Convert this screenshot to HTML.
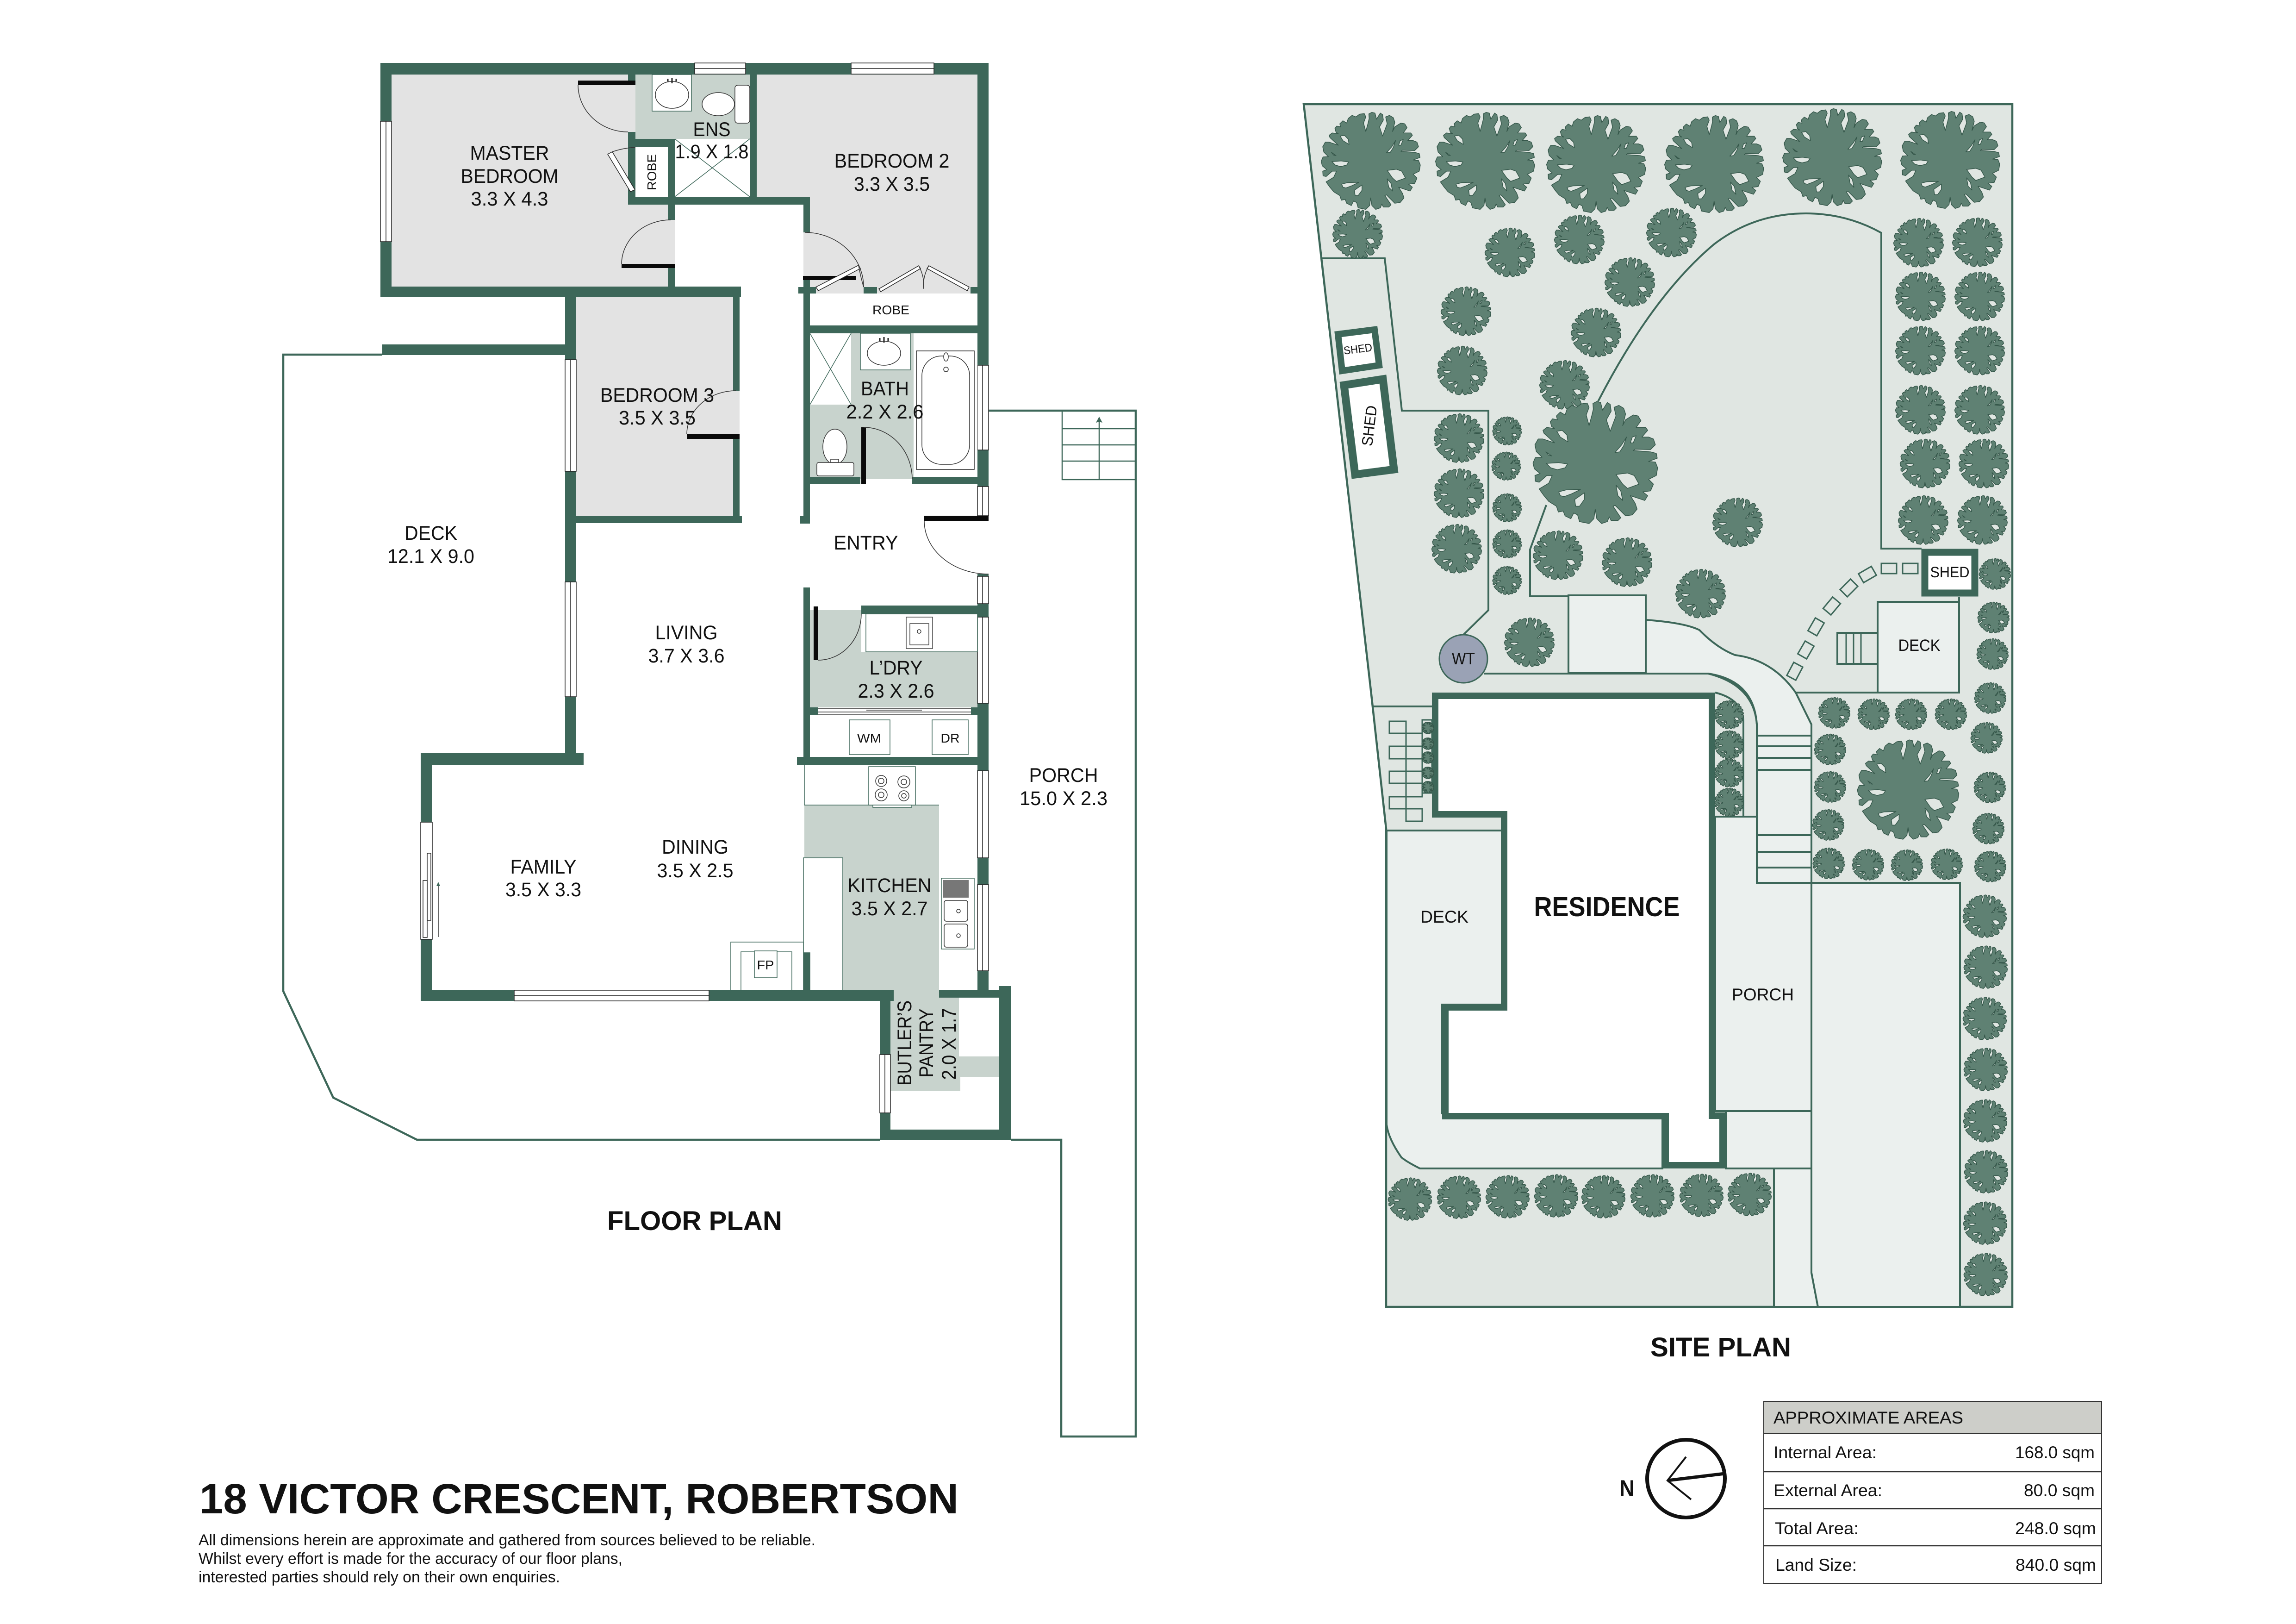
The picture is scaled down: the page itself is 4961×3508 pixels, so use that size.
<!DOCTYPE html>
<html><head><meta charset="utf-8"><title>18 Victor Crescent, Robertson</title>
<style>html,body{margin:0;padding:0;background:#fff}svg{display:block}
text{font-family:"Liberation Sans",sans-serif;fill:#111}
.r{font-size:43px;text-anchor:middle}.s{font-size:28px;text-anchor:middle}
.b{font-weight:bold}
.w{fill:#fff;stroke:#222;stroke-width:1.5}
.l{fill:none;stroke:#3d6759;stroke-width:4.5}
.n{fill:none;stroke:#3d6759;stroke-width:2}
.d{fill:none;stroke:#333;stroke-width:1.5}
.f{fill:#fff;stroke:#3d6759;stroke-width:1.5}
.p{fill:#ebf0ee;stroke:#3d6759;stroke-width:4}
</style></head><body>
<svg xmlns="http://www.w3.org/2000/svg" width="4961" height="3508" viewBox="0 0 4961 3508">
<defs>
<path id="t" transform="translate(-360 -310)" fill="#5f8173" stroke="#35574a" stroke-width="1.5" vector-effect="non-scaling-stroke" fill-rule="evenodd" stroke-linejoin="round" d="M370 0L350 10 352 40 345 70 330 125 315 70 330 30 320 8 290 12 265 30 240 20 215 40 205 70 180 55 160 75 165 95 140 90 128 105 135 130 150 140 110 135 90 150 95 165 150 215 90 195 65 195 48 225 55 260 85 290 50 292 38 320 45 350 75 375 48 385 50 415 70 420 110 385 138 385 120 425 70 455 95 490 120 520 160 545 170 575 195 570 205 595 235 610 250 580 270 590 280 625 330 635 355 610 362 560 370 610 395 635 425 625 435 600 445 620 480 620 495 605 455 545 465 540 520 595 555 590 580 560 570 530 545 490 620 515 635 490 610 470 650 465 665 430 640 405 680 385 687 345 675 315 640 312 685 295 680 270 650 262 560 255 570 248 650 250 675 225 665 195 640 185 605 185 635 150 625 135 575 135 600 100 585 75 560 70 520 95 505 125 520 65 510 35 485 20 460 30 470 75 440 155 420 95 445 50 440 15 425 5 400 45 390 5ZM162 155L190 150 215 175 220 210 180 185ZM105 262L135 283 120 280ZM108 322L170 318 218 325 205 345 165 355 130 345ZM465 265L500 225 525 185 510 230 490 262ZM545 215L555 185 575 178 560 215ZM470 380L530 372 565 385 590 430 530 452 505 430ZM470 435L495 465 505 515 480 490ZM172 470L210 460 285 458 240 480 200 495 180 490ZM255 510L305 475 305 510 280 545 260 545Z"/>
<g id="L"><use href="#t" transform="scale(.33)"/></g>
<g id="M"><use href="#t" transform="scale(.166)"/></g>
<g id="H"><use href="#t" transform="scale(.145)"/></g>
<g id="S"><use href="#t" transform="scale(.105)"/></g>
<g id="X"><use href="#t" transform="scale(.096)"/></g>
<g id="Z"><use href="#t" transform="scale(.04)"/></g>
</defs>
<rect width="4961" height="3508" fill="#fff"/>

<!-- FLOOR PLAN floors -->
<g fill="#e3e3e3">
<rect x="846" y="161" width="612" height="458"/>
<path d="M1635 161H2112V634H1736V425H1635Z"/>
<rect x="1245" y="634" width="353" height="481"/>
</g>
<g fill="#c8d3cd">
<rect x="1373" y="161" width="247" height="139"/>
<path d="M1839 720H1974V1035H1750V874H1839Z"/>
<path d="M1750 1318H1861V1408H2112V1528H1750Z"/>
<path d="M1738 1739H2029V2139H1821V1855H1738Z"/>
<path d="M1924 2139H2072V2282H2159V2326H2075V2357H1924Z"/>
</g>
<g fill="#fff">
<rect x="1458" y="300" width="162" height="125"/>
<rect x="1373" y="318" width="70" height="107"/>
<rect x="1750" y="634" width="362" height="69"/>
<rect x="1750" y="720" width="89" height="154"/>
<rect x="1458" y="442" width="278" height="200"/>
</g>
<!-- deck / porch outline -->
<path class="l" d="M826 766H612V2141L720 2371 901 2462H1901M2184 2462H2293V3103H2454V887H2136"/>
<g class="n" style="stroke-width:2.5"><path d="M2295 887V1036H2454M2295 926H2454M2295 961H2454M2295 996H2454M2375 910V1036"/></g>
<path d="M2375 900L2382 913 2375 911 2368 913Z" fill="#3d6759"/>

<!-- walls -->
<path fill="#3d6759" d="M822 136H2136V161H822Z
M822 161H846V619H822Z
M2112 161H2136V1049H2112Z
M822 619H1601V642H822Z
M1357 161H1373V181H1357Z
M1357 285H1373V442H1357Z
M1357 300H1458V318H1357Z
M1357 425H1750V442H1357Z
M1443 300H1458V475H1443Z
M1443 578H1458V619H1443Z
M1620 161H1635V425H1620Z
M1736 425H1750V502H1736Z
M1736 597H1750V1131H1736Z
M1725 620H1763V634H1725Z
M1728 1115H1750V1131H1728Z
M1866 620H1895V634H1866Z
M2097 620H2112V634H2097Z
M1736 703H2136V720H1736Z
M1750 1030H1859V1045H1750Z
M1971 1030H2112V1045H1971Z
M1221 642H1245V1627H1221Z
M1221 1115H1603V1130H1221Z
M1584 642H1598V844H1584Z
M1584 948H1598V1115H1584Z
M826 744H1221V767H826Z
M909 1627H1261V1652H909Z
M909 1652H934V2162H909Z
M909 2139H1931V2162H909Z
M1736 1269H1750V1652H1736Z
M1861 1308H2136V1326H1861Z
M2112 1304H2136V1333H2112Z
M2112 1519H2136V1665H2112Z
M1722 1635H2136V1652H1722Z
M2112 1853H2136V1911H2112Z
M2112 2097H2136V2155H2112Z
M2029 2139H2184V2155H2029Z
M2159 2130H2184V2462H2159Z
M1901 2139H1924V2462H1901Z
M1901 2440H2184V2462H1901Z
M1736 2058H1750V2139H1736Z
M2112 1240H2136V1245H2112Z
M2112 972H2136V1051H2112Z"/>

<!-- windows -->
<g class="w">
<rect x="822" y="262" width="24" height="260"/>
<rect x="1221" y="777" width="24" height="241"/>
<rect x="1221" y="1257" width="24" height="248"/>
<rect x="2112" y="789" width="24" height="183"/>
<rect x="2112" y="1051" width="24" height="63"/>
<rect x="2112" y="1245" width="24" height="59"/>
<rect x="2112" y="1333" width="24" height="186"/>
<rect x="2112" y="1665" width="24" height="188"/>
<rect x="2112" y="1911" width="24" height="186"/>
<rect x="909" y="1776" width="25" height="253"/>
<rect x="1901" y="2278" width="23" height="126"/>
<rect x="1501" y="136" width="110" height="24"/>
<rect x="1839" y="136" width="179" height="24"/>
<rect x="1111" y="2139" width="421" height="23"/>
</g>
<path class="d" style="stroke:#222" d="M834 262V522M1233 777V1018M1233 1257V1505M2123 789V972M2123 1051V1114M2123 1245V1304M2123 1333V1519M2123 1665V1853M2123 1911V2097M1912 2278V2404M1501 148H1611M1839 148H2018M1111 2150H1532"/>
<rect x="923" y="1843" width="8" height="145" class="w"/><rect x="914" y="1902" width="9" height="123" class="w"/>
<path class="d" d="M947 1909V2024"/><path d="M947 1905L951 1914H943Z" fill="#3d6759"/>

<!-- doors -->
<g fill="#0a0a0a">
<rect x="1249" y="174" width="124" height="10"/>
<rect x="1343" y="570" width="115" height="9"/>
<rect x="1735" y="596" width="115" height="9"/>
<rect x="1484" y="938" width="114" height="10"/>
<rect x="1861" y="923" width="10" height="122"/>
<rect x="1997" y="1114" width="139" height="11"/>
<rect x="1758" y="1310" width="10" height="116"/>
</g>
<path class="d" d="M1249 184A108 102 0 0 0 1357 285M1343 570A106 96 0 0 1 1449 475M1739 502A127 118 0 0 1 1866 620M1484 938A106 94 0 0 1 1590 844M1866 923A105 112 0 0 1 1971 1035M1768 1426A93 100 0 0 0 1861 1326M1997 1125A139 115 0 0 0 2136 1240"/>
<path class="w" d="M1313 333L1362 414 1372 410 1323 328ZM1763 620L1855 573 1859 580 1768 628ZM1899 624L1985 574 1989 580 1903 630ZM2094 620L2007 574 2003 580 2090 628Z" stroke-width="1"/>
<path class="d" d="M1323 328Q1345 320 1373 318M1855 573Q1860 600 1866 620M1985 574Q1998 598 1996 624M2007 574Q1993 598 1996 624"/>

<!-- ensuite fixtures -->
<rect x="1409" y="161" width="85" height="79" class="f"/>
<ellipse cx="1452" cy="205" rx="36" ry="29" class="f" style="stroke:#333"/>
<path d="M1452 168V180M1443 170V176M1461 170V176" stroke="#222" stroke-width="3"/>
<ellipse cx="1552" cy="225" rx="35" ry="25" class="f" style="stroke:#333"/>
<rect x="1588" y="184" width="32" height="82" rx="6" class="f" style="stroke:#333"/>
<path class="n" style="stroke-width:1.5" d="M1458 300L1620 425M1620 300L1458 425M1750 720L1839 874M1839 720L1750 874"/>
<!-- bath fixtures -->
<rect x="1859" y="720" width="108" height="79" class="f"/>
<ellipse cx="1910" cy="763" rx="36" ry="26" class="f" style="stroke:#333"/>
<path d="M1910 728V740M1901 730V736M1919 730V736" stroke="#222" stroke-width="3"/>
<rect x="1974" y="720" width="138" height="310" fill="#fff"/>
<rect x="1980" y="758" width="125" height="256" class="f" style="stroke:#222"/>
<rect x="1992" y="769" width="103" height="234" rx="42" class="f" style="stroke:#333"/>
<circle cx="2044" cy="798" r="5" class="f" style="stroke:#333"/><ellipse cx="2044" cy="771" rx="5" ry="9" class="f" style="stroke:#333"/>
<ellipse cx="1804" cy="965" rx="26" ry="38" class="f" style="stroke:#333"/>
<rect x="1765" y="999" width="80" height="29" rx="4" class="f" style="stroke:#333"/>
<rect x="1795" y="992" width="17" height="7" class="f" style="stroke:#333"/>
<!-- laundry -->
<rect x="1871" y="1326" width="241" height="82" class="f"/>
<rect x="1958" y="1333" width="57" height="68" class="f" style="stroke:#444"/>
<rect x="1966" y="1347" width="41" height="46" class="f" style="stroke:#444"/>
<circle cx="1986" cy="1364" r="4" class="f" style="stroke:#333"/>
<rect x="1750" y="1528" width="362" height="107" fill="#fff"/>
<path class="d" d="M1768 1530H2100M1768 1538H2098M1768 1544H2110M1872 1534H1992M2100 1528V1544"/>
<rect x="1835" y="1555" width="88" height="75" class="f"/>
<rect x="2014" y="1555" width="78" height="75" class="f"/>
<path fill="#3d6759" d="M1750 1528H1768V1544H1750ZM2098 1528H2112V1544H2098Z"/>
<!-- kitchen -->
<path class="f" d="M1738 1652V1739H2029" style="fill:none"/>
<rect x="1877" y="1656" width="101" height="83" class="f"/>
<g class="f" style="stroke:#333"><circle cx="1904" cy="1687" r="12"/><circle cx="1904" cy="1687" r="6"/><circle cx="1953" cy="1689" r="13"/><circle cx="1953" cy="1689" r="6"/><circle cx="1904" cy="1717" r="13"/><circle cx="1904" cy="1717" r="6"/><circle cx="1953" cy="1719" r="11"/><circle cx="1953" cy="1719" r="5"/></g>
<rect x="1886" y="1739" width="84" height="5" class="f"/>
<path d="M1736 1853H1821V2139H1750V2058H1736Z" class="f"/>
<rect x="2034" y="1897" width="71" height="153" class="f"/>
<rect x="2037" y="1901" width="56" height="38" fill="#777"/>
<rect x="2040" y="1945" width="51" height="45" rx="5" class="f" style="stroke:#333"/>
<rect x="2040" y="1996" width="51" height="50" rx="5" class="f" style="stroke:#333"/>
<circle cx="2071" cy="1968" r="4" class="f" style="stroke:#333"/><circle cx="2071" cy="2021" r="4" class="f" style="stroke:#333"/>
<rect x="1579" y="2035" width="157" height="104" class="f"/>
<path class="f" d="M1601 2139V2056H1711V2139"/>
<rect x="1630" y="2054" width="49" height="58" class="f"/>

<!-- SITE PLAN -->
<path fill="#e0e6e2" stroke="#3d6759" stroke-width="4.5" d="M2817 225H4348V2823H2995V1790L2963 1500Z"/>
<g class="p">
<path d="M2996 1794H3245V2170H3116V2405H3592V2524H3068Q3040 2510 3028 2500 3000 2460 2996 2429Z"/>
<rect x="3706" y="1764" width="208" height="636"/>
<path d="M3729 2400H3914V2524H3729Z"/>
<path d="M3833 2524H3914V2749L3928 2823H3833Z"/>
<path d="M3914 1907H4235V2823H3928L3914 2749Z"/>
<path d="M3556 1339Q3640 1345 3672 1361 3710 1400 3749 1415 3830 1425 3880 1496L3914 1565V1907H3796V1565Q3790 1480 3691 1455H3556Z"/>
<rect x="3389" y="1286" width="167" height="168"/>
<rect x="4057" y="1300" width="176" height="196"/>
</g>
<path class="l" style="stroke-width:4" fill="none" d="M2856 558H2992L3029 887H3216V1318L3162 1371M3453 867Q3570 640 3703 528 3790 461 3902 461 3990 461 4065 503V1185H4152M3341 1091L3306 1187V1288H3389M3206 1455H3691Q3790 1470 3796 1565M3880 1496H4057M3706 1496Q3764 1510 3767 1558V1764H3706M3796 1589H3914M3796 1612H3914M3796 1637H3914M3796 1663H3914M3796 1804H3914M3796 1840H3914M3796 1874H3914M3796 1907V1565M2967 1526H3094M4233 1289V1300"/>
<rect x="3970" y="1367" width="87" height="67" class="p" style="fill:#e0e6e2"/>
<path class="l" style="stroke-width:3" d="M3989 1367V1434M4005 1367V1434M4021 1367V1434"/>
<g class="n" fill="none" style="stroke-width:3">
<rect x="3002" y="1558" width="36" height="26"/><rect x="3038" y="1584" width="35" height="28"/><rect x="3002" y="1612" width="36" height="27"/><rect x="3038" y="1639" width="35" height="27"/><rect x="3002" y="1666" width="36" height="26"/><rect x="3038" y="1692" width="35" height="29"/><rect x="3002" y="1721" width="36" height="26"/><rect x="3038" y="1747" width="35" height="27"/><rect x="3073" y="1555" width="21" height="158"/>
<rect x="4065" y="1217" width="33" height="22"/><rect x="4111" y="1217" width="33" height="22"/>
<rect x="-16" y="-11" width="32" height="22" transform="translate(4035 1241) rotate(-30)"/><rect x="-16" y="-11" width="32" height="22" transform="translate(3995 1270) rotate(-45)"/><rect x="-16" y="-11" width="32" height="22" transform="translate(3958 1309) rotate(-50)"/><rect x="-16" y="-11" width="32" height="22" transform="translate(3924 1354) rotate(-60)"/><rect x="-16" y="-11" width="32" height="22" transform="translate(3902 1404) rotate(-60)"/><rect x="-16" y="-11" width="32" height="22" transform="translate(3878 1450) rotate(-62)"/>
</g>
<!-- residence and sheds -->
<path fill="#fff" stroke="#3d6759" stroke-width="14" stroke-linejoin="miter" d="M3101 1503H3699V2410H3722V2517H3599V2411H3123V2176H3250V1759H3101Z"/>
<polygon points="2891,722 2970,712 2980,789 2900,801" fill="#fff" stroke="#3d6759" stroke-width="14"/>
<polygon points="2904,832 2988,819 3012,1014 2928,1025" fill="#fff" stroke="#3d6759" stroke-width="17"/>
<rect x="4159" y="1193" width="108" height="88" fill="#fff" stroke="#3d6759" stroke-width="15"/>
<ellipse cx="3162" cy="1423" rx="52" ry="52" fill="#9aa2b5" stroke="#3d6759" stroke-width="3"/>

<!-- trees -->
<use href="#L" x="2961" y="345"/><use href="#L" x="3208" y="345"/><use href="#L" x="3448" y="352"/><use href="#L" x="3703" y="352"/><use href="#L" x="3958" y="337"/><use href="#L" x="4213" y="343"/>
<use href="#M" x="2933" y="504"/><use href="#M" x="3262" y="544"/><use href="#M" x="3412" y="516"/><use href="#M" x="3611" y="501"/><use href="#M" x="3521" y="608"/><use href="#M" x="3448" y="717"/><use href="#M" x="3167" y="671"/><use href="#M" x="3159" y="799"/><use href="#M" x="3380" y="830"/><use href="#M" x="3152" y="945"/><use href="#M" x="3152" y="1064"/><use href="#M" x="3147" y="1184"/><use href="#M" x="3366" y="1198"/><use href="#M" x="3515" y="1213"/><use href="#M" x="3754" y="1127"/><use href="#M" x="3674" y="1281"/><use href="#M" x="3304" y="1386"/>
<use href="#M" x="4145" y="523"/><use href="#M" x="4272" y="522"/><use href="#M" x="4149" y="639"/><use href="#M" x="4277" y="639"/><use href="#M" x="4149" y="756"/><use href="#M" x="4277" y="756"/><use href="#M" x="4149" y="884"/><use href="#M" x="4277" y="884"/><use href="#M" x="4159" y="1000"/><use href="#M" x="4286" y="1000"/><use href="#M" x="4155" y="1122"/><use href="#M" x="4283" y="1122"/>
<use href="#X" x="3256" y="930"/><use href="#X" x="3254" y="1006"/><use href="#X" x="3256" y="1096"/><use href="#X" x="3256" y="1174"/><use href="#X" x="3256" y="1253"/>
<use href="#t" transform="translate(3446 996) scale(.415)"/>
<use href="#t" transform="translate(4122 1703) scale(.338)"/>
<use href="#S" x="4310" y="1239"/><use href="#S" x="4307" y="1333"/><use href="#S" x="4305" y="1412"/><use href="#S" x="4300" y="1507"/><use href="#S" x="4292" y="1593"/><use href="#S" x="4299" y="1700"/><use href="#S" x="4296" y="1789"/><use href="#S" x="4300" y="1871"/>
<use href="#S" x="3963" y="1539"/><use href="#S" x="4048" y="1542"/><use href="#S" x="4129" y="1542"/><use href="#S" x="4215" y="1542"/><use href="#S" x="3954" y="1618"/><use href="#S" x="3954" y="1699"/><use href="#S" x="3950" y="1781"/><use href="#S" x="3951" y="1864"/><use href="#S" x="4036" y="1867"/><use href="#S" x="4120" y="1868"/><use href="#S" x="4206" y="1866"/>
<use href="#H" x="4288" y="1978"/><use href="#H" x="4290" y="2088"/><use href="#H" x="4288" y="2199"/><use href="#H" x="4290" y="2309"/><use href="#H" x="4289" y="2420"/><use href="#H" x="4291" y="2530"/><use href="#H" x="4289" y="2641"/><use href="#H" x="4290" y="2752"/>
<use href="#H" x="3046" y="2589"/><use href="#H" x="3152" y="2585"/><use href="#H" x="3257" y="2584"/><use href="#H" x="3362" y="2582"/><use href="#H" x="3464" y="2584"/><use href="#H" x="3570" y="2582"/><use href="#H" x="3676" y="2581"/><use href="#H" x="3780" y="2579"/>
<use href="#X" x="3736" y="1543"/><use href="#X" x="3736" y="1608"/><use href="#X" x="3736" y="1669"/><use href="#X" x="3736" y="1732"/>
<use href="#Z" x="3085" y="1572"/><use href="#Z" x="3085" y="1606"/><use href="#Z" x="3085" y="1636"/><use href="#Z" x="3085" y="1669"/><use href="#Z" x="3085" y="1700"/>

<!-- room labels -->
<g class="r">
<text class="r" x="1101" y="345" textLength="171" lengthAdjust="spacingAndGlyphs">MASTER</text>
<text class="r" x="1101" y="395" textLength="211" lengthAdjust="spacingAndGlyphs">BEDROOM</text>
<text class="r" x="1101" y="444" textLength="167" lengthAdjust="spacingAndGlyphs">3.3 X 4.3</text>
<text class="r" x="1538" y="294" textLength="81" lengthAdjust="spacingAndGlyphs">ENS</text>
<text class="r" x="1538" y="342" textLength="159" lengthAdjust="spacingAndGlyphs">1.9 X 1.8</text>
<text class="r" x="1927" y="362" textLength="249" lengthAdjust="spacingAndGlyphs">BEDROOM 2</text>
<text class="r" x="1927" y="412" textLength="164" lengthAdjust="spacingAndGlyphs">3.3 X 3.5</text>
<text class="r" x="1420" y="868" textLength="246" lengthAdjust="spacingAndGlyphs">BEDROOM 3</text>
<text class="r" x="1420" y="917" textLength="166" lengthAdjust="spacingAndGlyphs">3.5 X 3.5</text>
<text class="r" x="1912" y="854" textLength="104" lengthAdjust="spacingAndGlyphs">BATH</text>
<text class="r" x="1912" y="904" textLength="167" lengthAdjust="spacingAndGlyphs">2.2 X 2.6</text>
<text class="r" x="931" y="1166" textLength="114" lengthAdjust="spacingAndGlyphs">DECK</text>
<text class="r" x="931" y="1216" textLength="188" lengthAdjust="spacingAndGlyphs">12.1 X 9.0</text>
<text class="r" x="1871" y="1187" textLength="139" lengthAdjust="spacingAndGlyphs">ENTRY</text>
<text class="r" x="1483" y="1381" textLength="135" lengthAdjust="spacingAndGlyphs">LIVING</text>
<text class="r" x="1483" y="1431" textLength="165" lengthAdjust="spacingAndGlyphs">3.7 X 3.6</text>
<text class="r" x="1936" y="1457" textLength="115" lengthAdjust="spacingAndGlyphs">L’DRY</text>
<text class="r" x="1936" y="1507" textLength="165" lengthAdjust="spacingAndGlyphs">2.3 X 2.6</text>
<text class="r" x="1174" y="1887" textLength="143" lengthAdjust="spacingAndGlyphs">FAMILY</text>
<text class="r" x="1174" y="1936" textLength="164" lengthAdjust="spacingAndGlyphs">3.5 X 3.3</text>
<text class="r" x="1502" y="1844" textLength="144" lengthAdjust="spacingAndGlyphs">DINING</text>
<text class="r" x="1502" y="1895" textLength="165" lengthAdjust="spacingAndGlyphs">3.5 X 2.5</text>
<text class="r" x="1922" y="1927" textLength="181" lengthAdjust="spacingAndGlyphs">KITCHEN</text>
<text class="r" x="1922" y="1977" textLength="165" lengthAdjust="spacingAndGlyphs">3.5 X 2.7</text>
<text class="r" x="2298" y="1689" textLength="149" lengthAdjust="spacingAndGlyphs">PORCH</text>
<text class="r" x="2298" y="1739" textLength="190" lengthAdjust="spacingAndGlyphs">15.0 X 2.3</text>
<text class="r" transform="translate(1969 2253) rotate(-90)" textLength="184" lengthAdjust="spacingAndGlyphs">BUTLER’S</text>
<text class="r" transform="translate(2016 2253) rotate(-90)" textLength="149" lengthAdjust="spacingAndGlyphs">PANTRY</text>
<text class="r" transform="translate(2065 2255) rotate(-90)" textLength="155" lengthAdjust="spacingAndGlyphs">2.0 X 1.7</text>
</g>
<text class="s" transform="translate(1418 372) rotate(-90)" textLength="78" lengthAdjust="spacingAndGlyphs">ROBE</text>
<text class="s" x="1925" y="679" textLength="80" lengthAdjust="spacingAndGlyphs">ROBE</text>
<text class="s" x="1878" y="1604" textLength="52" lengthAdjust="spacingAndGlyphs">WM</text>
<text class="s" x="2053" y="1604" textLength="41" lengthAdjust="spacingAndGlyphs">DR</text>
<text class="s" x="1654" y="2094" textLength="37" lengthAdjust="spacingAndGlyphs">FP</text>
<text class="b" x="1501" y="2657" font-size="58" text-anchor="middle" textLength="378" lengthAdjust="spacingAndGlyphs">FLOOR PLAN</text>

<!-- site labels -->
<text class="b" x="3472" y="1979" font-size="59" text-anchor="middle" textLength="315" lengthAdjust="spacingAndGlyphs">RESIDENCE</text>
<text x="3121" y="1993" font-size="37" text-anchor="middle" textLength="104" lengthAdjust="spacingAndGlyphs">DECK</text>
<text x="3809" y="2161" font-size="37" text-anchor="middle" textLength="134" lengthAdjust="spacingAndGlyphs">PORCH</text>
<text x="4147" y="1406" font-size="35" text-anchor="middle" textLength="91" lengthAdjust="spacingAndGlyphs">DECK</text>
<text x="3162" y="1435" font-size="36" text-anchor="middle" textLength="50" lengthAdjust="spacingAndGlyphs">WT</text>
<text x="4213" y="1247" font-size="32" text-anchor="middle" textLength="85" lengthAdjust="spacingAndGlyphs">SHED</text>
<text font-size="24" text-anchor="middle" transform="translate(2935 762) rotate(-7)" textLength="62" lengthAdjust="spacingAndGlyphs">SHED</text>
<text font-size="33" text-anchor="middle" transform="translate(2970 921) rotate(-83)" textLength="88" lengthAdjust="spacingAndGlyphs">SHED</text>
<text class="b" x="3718" y="2930" font-size="58" text-anchor="middle" textLength="304" lengthAdjust="spacingAndGlyphs">SITE PLAN</text>

<!-- title -->
<text class="b" x="431" y="3269" font-size="92" textLength="1640" lengthAdjust="spacingAndGlyphs">18 VICTOR CRESCENT, ROBERTSON</text>
<text x="429" y="3338" font-size="34" textLength="1333" lengthAdjust="spacingAndGlyphs">All dimensions herein are approximate and gathered from sources believed to be reliable.</text>
<text x="429" y="3378" font-size="34" textLength="916" lengthAdjust="spacingAndGlyphs">Whilst every effort is made for the accuracy of our floor plans,</text>
<text x="429" y="3418" font-size="34" textLength="781" lengthAdjust="spacingAndGlyphs">interested parties should rely on their own enquiries.</text>

<!-- north -->
<text class="b" x="3499" y="3232" font-size="50" textLength="33" lengthAdjust="spacingAndGlyphs">N</text>
<circle cx="3643" cy="3194" r="84" fill="none" stroke="#111" stroke-width="8"/>
<path d="M3603 3198L3727 3183" stroke="#111" stroke-width="7" fill="none"/>
<path d="M3643 3147L3603 3198 3654 3239" stroke="#111" stroke-width="4" fill="none"/>

<!-- areas -->
<rect x="3811" y="3027" width="730" height="393" fill="#fff" stroke="#333" stroke-width="2"/>
<rect x="3811" y="3027" width="730" height="69" fill="#cdcec9" stroke="#333" stroke-width="2"/>
<path d="M3811 3179H4541M3811 3259H4541M3811 3339H4541" stroke="#333" stroke-width="2.5"/>
<text x="3832" y="3075" font-size="37" textLength="410" lengthAdjust="spacingAndGlyphs">APPROXIMATE AREAS</text>
<g font-size="37">
<text x="3832" y="3150" font-size="37" textLength="223" lengthAdjust="spacingAndGlyphs">Internal Area:</text>
<text x="3832" y="3232" font-size="37" textLength="235" lengthAdjust="spacingAndGlyphs">External Area:</text>
<text x="3835" y="3314" font-size="37" textLength="181" lengthAdjust="spacingAndGlyphs">Total Area:</text>
<text x="3836" y="3393" font-size="37" textLength="176" lengthAdjust="spacingAndGlyphs">Land Size:</text>
<text x="4354" y="3150" font-size="37" textLength="172" lengthAdjust="spacingAndGlyphs">168.0 sqm</text>
<text x="4373" y="3232" font-size="37" textLength="153" lengthAdjust="spacingAndGlyphs">80.0 sqm</text>
<text x="4354" y="3314" font-size="37" textLength="175" lengthAdjust="spacingAndGlyphs">248.0 sqm</text>
<text x="4355" y="3393" font-size="37" textLength="174" lengthAdjust="spacingAndGlyphs">840.0 sqm</text>
</g>
</svg>
</body></html>
